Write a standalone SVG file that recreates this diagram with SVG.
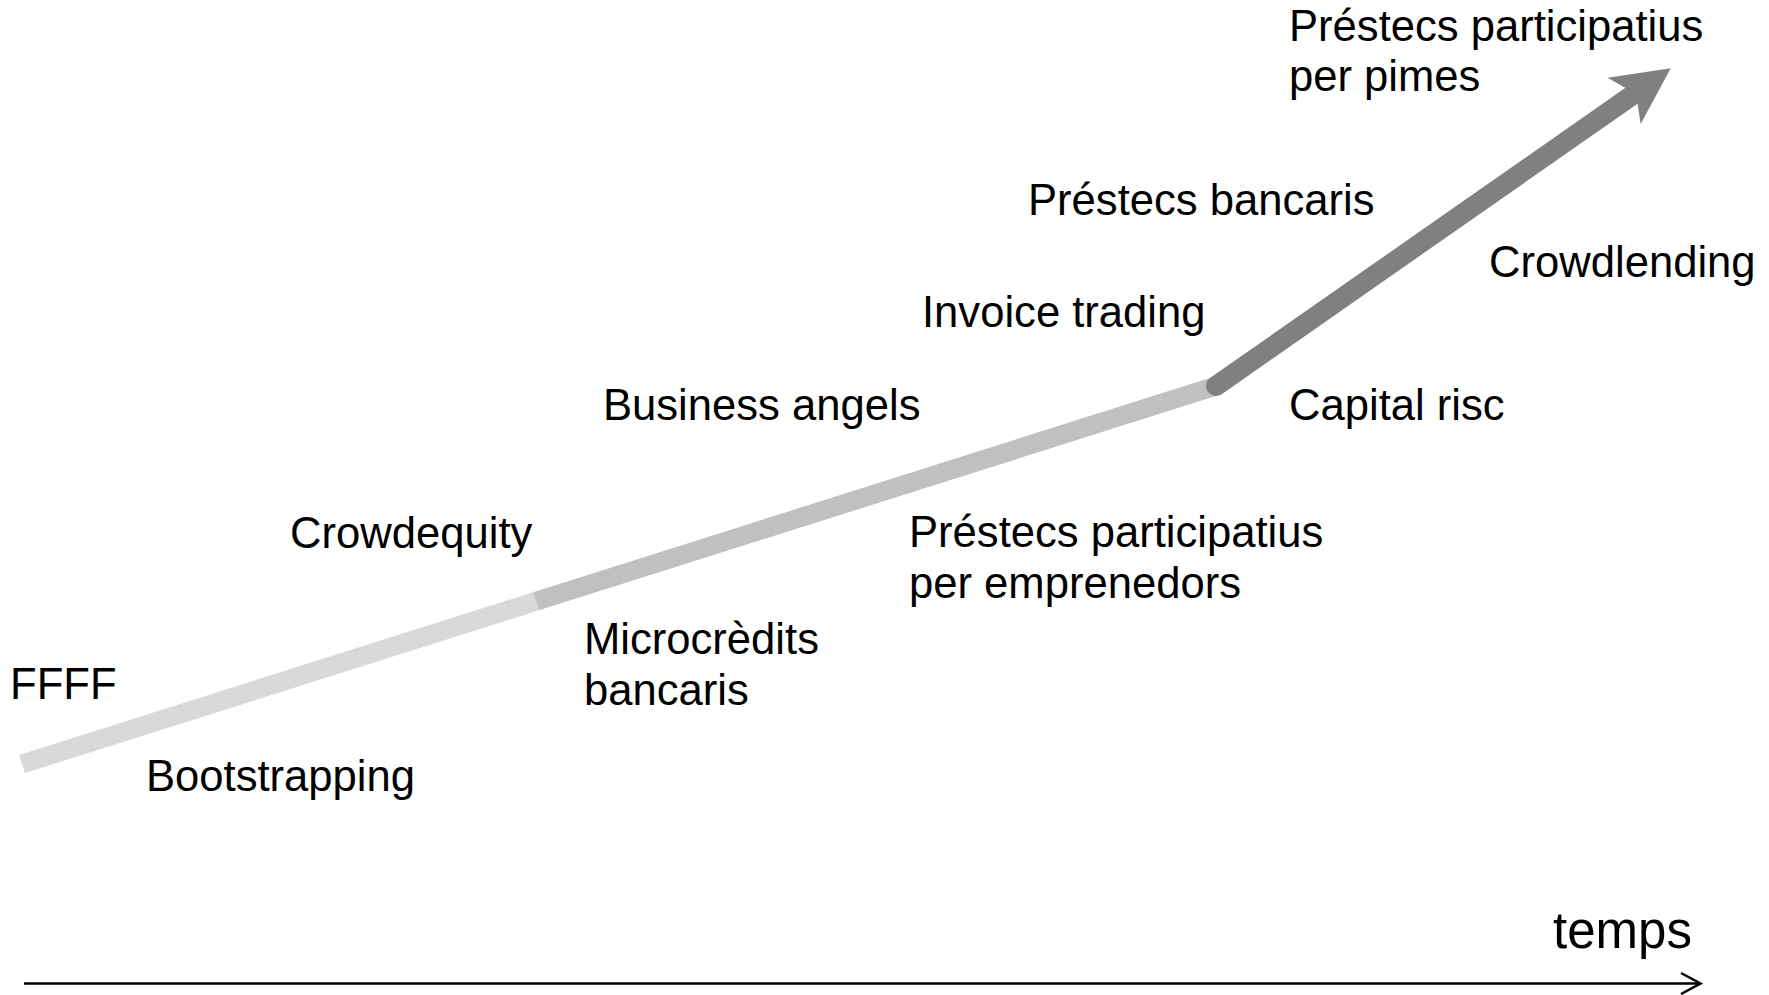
<svg xmlns="http://www.w3.org/2000/svg" width="1769" height="995" viewBox="0 0 1769 995">
<style>
text{font-family:"Liberation Sans",Arial,Helvetica,sans-serif;font-size:43.6px;fill:#000}
.big{font-size:51px}
.seg{fill:none;stroke-width:19}
</style>
<rect width="1769" height="995" fill="#fff"/>
<g id="connectors">
<line class="seg" x1="22" y1="764" x2="536" y2="601.3" stroke="#d9d9d9"/>
<line class="seg" x1="536" y1="601.3" x2="1216" y2="386" stroke="#c0c0c0"/>
<line x1="1216" y1="386" x2="1634" y2="94" stroke="#808080" stroke-width="20" stroke-linecap="round"/>
<polygon points="1670.7,68.3 1607.7,77.7 1636,94 1640.7,124" fill="#808080"/>
<line x1="24" y1="983.5" x2="1700" y2="983.5" stroke="#000" stroke-width="2.5"/>
<polyline points="1681,973 1700.5,983.5 1681,994" fill="none" stroke="#000" stroke-width="2.5"/>
</g>
<g id="n-ffff"><text x="10" y="699">FFFF</text></g>
<g id="n-bootstrapping"><text x="146" y="791">Bootstrapping</text></g>
<g id="n-crowdequity"><text x="290" y="548">Crowdequity</text></g>
<g id="n-microcredits"><text x="584" y="654">Microcrèdits</text><text x="584" y="705">bancaris</text></g>
<g id="n-business"><text x="603" y="420">Business angels</text></g>
<g id="n-prestecs-emp"><text x="909" y="547">Préstecs participatius</text><text x="909" y="598">per emprenedors</text></g>
<g id="n-invoice"><text x="922" y="327">Invoice trading</text></g>
<g id="n-bancaris"><text x="1028" y="215">Préstecs bancaris</text></g>
<g id="n-capital"><text x="1289" y="420">Capital risc</text></g>
<g id="n-crowdlending"><text x="1489" y="277">Crowdlending</text></g>
<g id="n-prestecs-pimes"><text x="1289" y="41">Préstecs participatius</text><text x="1289" y="91">per pimes</text></g>
<g id="n-temps"><text class="big" x="1553" y="948">temps</text></g>
</svg>
